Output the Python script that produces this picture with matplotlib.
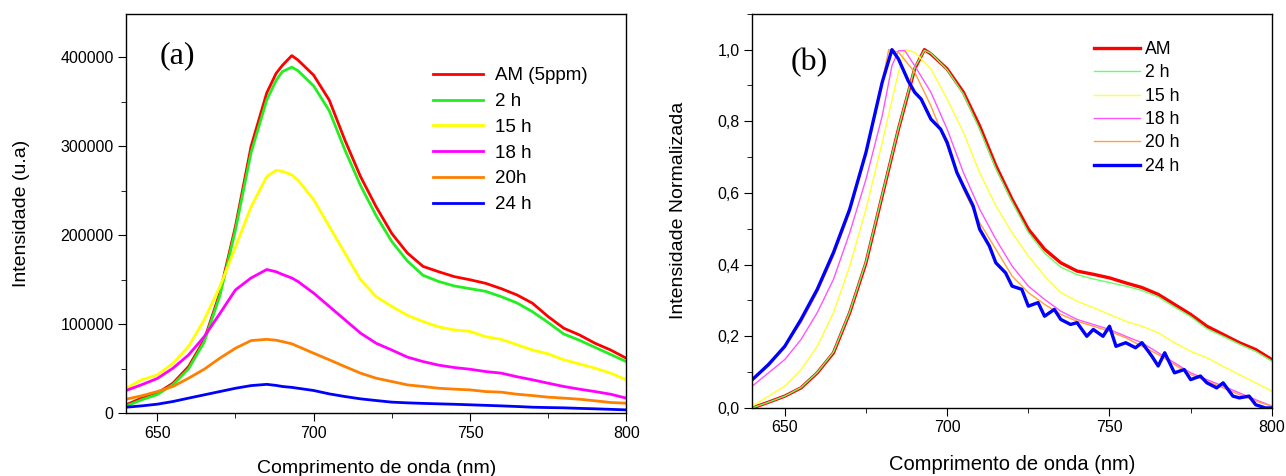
import matplotlib
matplotlib.use('Agg')
import matplotlib.pyplot as plt
from matplotlib.ticker import MultipleLocator, FuncFormatter

plt.rcParams['font.family'] = ['Liberation Sans', 'DejaVu Sans']

# --- panel (a): raw intensity ---
wl = [640, 645, 650, 655, 660, 665, 670, 675, 680, 685, 688, 690, 693, 695, 700, 705, 710, 715,
      720, 725, 730, 735, 740, 745, 750, 755, 760, 765, 770, 775, 780, 785, 790, 795, 800]
am_a = [9400, 16900, 22500, 33700, 52400, 82400, 135000, 210000, 300000, 360000, 382000, 391000,
        402000, 397000, 380000, 352000, 307000, 266000, 232000, 202000, 180000, 165000, 159000,
        153500, 150000, 146000, 140000, 133000, 123600, 108600, 95500, 88000, 78600, 71000, 61800]
h2_a = [8000, 15000, 21000, 32000, 50000, 80000, 132000, 206000, 293000, 352000, 374000, 384000,
        389000, 385000, 368000, 340000, 296000, 256000, 222000, 193000, 171000, 155000, 148000,
        143000, 140000, 137000, 131000, 124000, 114000, 102000, 89000, 82000, 74000, 66000, 58000]
h15_a = [28000, 37500, 43000, 56000, 75000, 105000, 142000, 187000, 232000, 266000, 273000, 272000,
         268000, 262000, 240000, 210000, 180000, 150000, 131000, 120000, 110000, 103000, 97000,
         93600, 92000, 86000, 83000, 77000, 71000, 66700, 60000, 55400, 50600, 45000, 37500]
h18_a = [25500, 32000, 39000, 50500, 65500, 86000, 112000, 138600, 152000, 161500, 159000, 156000,
         152000, 148000, 135000, 120000, 105000, 90000, 78600, 71000, 63000, 58000, 54000,
         51300, 49400, 46800, 45000, 41000, 37500, 33700, 30000, 27000, 24300, 21300, 16900]
h20_a = [15700, 19500, 24300, 30000, 39300, 49400, 61800, 73000, 81600, 83000, 82000, 80500,
         78000, 75000, 67400, 60000, 52400, 45000, 39300, 35600, 31800, 30000, 28000, 27000,
         26200, 24300, 23600, 21300, 19800, 18000, 16900, 15700, 13900, 12000, 11200]
h24_a = [6700, 8200, 10100, 13100, 16900, 20600, 24300, 28000, 31000, 32400, 31200, 30000,
         29000, 28000, 25500, 21700, 18700, 16100, 14200, 12400, 11600, 11000, 10500, 10000,
         9400, 8800, 8200, 7500, 6700, 6300, 6000, 5400, 4900, 4300, 3700]

labels_a = ['AM (5ppm)', '2 h', '15 h', '18 h', '20h', '24 h']

# --- panel (b): normalized ---
wl_b = [640, 645, 650, 655, 660, 665, 670, 675, 680, 685, 690, 693, 695, 700, 705, 710, 715, 720,
        725, 730, 735, 740, 745, 750, 755, 760, 765, 770, 775, 780, 785, 790, 795, 800]
am_b = [0.0, 0.016, 0.033, 0.056, 0.098, 0.154, 0.266, 0.405, 0.592, 0.778, 0.946, 1.0, 0.988,
        0.946, 0.881, 0.787, 0.676, 0.582, 0.499, 0.443, 0.405, 0.382, 0.373, 0.363, 0.349,
        0.336, 0.317, 0.289, 0.261, 0.228, 0.205, 0.182, 0.163, 0.135]
h2_b = [0.0, 0.016, 0.033, 0.057, 0.099, 0.156, 0.268, 0.408, 0.595, 0.780, 0.950, 0.998, 0.990,
        0.944, 0.876, 0.778, 0.668, 0.575, 0.490, 0.432, 0.393, 0.372, 0.360, 0.350, 0.340,
        0.328, 0.310, 0.282, 0.255, 0.221, 0.200, 0.178, 0.158, 0.131]
wl_y = [640, 645, 650, 655, 660, 665, 670, 675, 680, 685, 687, 690, 695, 700, 705, 710, 715, 720,
        725, 730, 735, 740, 745, 750, 755, 760, 765, 770, 775, 780, 785, 790, 795, 800]
h15_b = [0.005, 0.033, 0.061, 0.107, 0.172, 0.266, 0.396, 0.555, 0.741, 0.937, 1.0, 0.993, 0.946,
         0.862, 0.769, 0.657, 0.564, 0.489, 0.424, 0.368, 0.322, 0.298, 0.280, 0.261, 0.242,
         0.228, 0.210, 0.182, 0.158, 0.140, 0.116, 0.093, 0.070, 0.047]
wl_m = [640, 645, 650, 655, 660, 665, 670, 675, 680, 683, 685, 687, 690, 695, 700, 705, 710, 715,
        720, 725, 730, 735, 740, 745, 750, 755, 760, 765, 770, 775, 780, 785, 790, 795, 800]
h18_b = [0.061, 0.098, 0.135, 0.191, 0.266, 0.359, 0.489, 0.638, 0.815, 0.955, 0.997, 0.997, 0.955,
         0.881, 0.778, 0.657, 0.555, 0.471, 0.396, 0.340, 0.303, 0.270, 0.247, 0.233, 0.219,
         0.200, 0.182, 0.154, 0.126, 0.098, 0.079, 0.061, 0.042, 0.023, 0.005]
wl_o = [640, 645, 650, 655, 660, 665, 670, 675, 680, 682, 685, 690, 695, 700, 705, 710, 715, 720,
        725, 730, 735, 740, 745, 750, 755, 760, 765, 770, 775, 780, 785, 790, 795, 800]
h20_b = [0.079, 0.126, 0.172, 0.238, 0.322, 0.424, 0.545, 0.713, 0.909, 1.0, 0.993, 0.937, 0.843,
         0.731, 0.610, 0.517, 0.443, 0.368, 0.322, 0.289, 0.261, 0.242, 0.228, 0.214, 0.196,
         0.172, 0.149, 0.121, 0.093, 0.075, 0.056, 0.037, 0.019, 0.005]
wl_bl = [640, 645, 650, 655, 660, 665, 670, 675, 680, 683, 685, 688, 690, 692, 695, 698, 700, 703,
         705, 708, 710, 713, 715, 718, 720, 723, 725, 728, 730, 733, 735, 738, 740, 743, 745, 748,
         750, 752, 755, 758, 760, 763, 765, 767, 770, 773, 775, 778, 780, 783, 785, 788, 790, 793,
         795, 798, 800]
h24_b = [0.079, 0.121, 0.172, 0.247, 0.331, 0.434, 0.555, 0.713, 0.909, 1.0, 0.974, 0.913, 0.881,
         0.862, 0.806, 0.778, 0.741, 0.657, 0.619, 0.564, 0.499, 0.452, 0.405, 0.377, 0.340,
         0.331, 0.284, 0.294, 0.256, 0.275, 0.247, 0.233, 0.238, 0.200, 0.219, 0.200, 0.228,
         0.172, 0.182, 0.168, 0.182, 0.145, 0.117, 0.154, 0.098, 0.107, 0.079, 0.089, 0.070,
         0.056, 0.070, 0.033, 0.028, 0.033, 0.009, 0.0, 0.0]

labels_b = ['AM', '2 h', '15 h', '18 h', '20 h', '24 h']
colors = ['#ff0000', '#22ee22', '#ffff00', '#ff00ff', '#ff8000', '#0000ff']
colors_b = ['#ff0000', '#66ff66', '#ffff33', '#ff55ff', '#ffa040', '#0000ff']

fig = plt.figure(figsize=(12.86, 4.76), dpi=100)
ax1 = fig.add_axes([0.098, 0.132, 0.389, 0.839])
ax2 = fig.add_axes([0.585, 0.143, 0.404, 0.828])

# panel (a)
for ys, lab, c in zip([am_a, h2_a, h15_a, h18_a, h20_a, h24_a], labels_a, colors):
    ax1.plot(wl, ys, color=c, linewidth=2.0, label=lab)
ax1.set_xlim(640, 800)
ax1.set_ylim(0, 449000)
ax1.xaxis.set_major_locator(MultipleLocator(50))
ax1.xaxis.set_minor_locator(MultipleLocator(25))
ax1.yaxis.set_major_locator(MultipleLocator(100000))
ax1.yaxis.set_minor_locator(MultipleLocator(50000))
ax1.set_xlabel('Comprimento de onda (nm)', fontsize=14, labelpad=14)
ax1.set_ylabel('Intensidade (u.a)', fontsize=14, labelpad=22)
ax1.text(0.068, 0.895, '(a)', transform=ax1.transAxes, fontsize=23, family='Liberation Serif',
         ha='left', va='center')
ax1.legend(loc='upper left', bbox_to_anchor=(0.614, 0.866), frameon=False, fontsize=13.5,
           handlelength=2.67, handletextpad=0.64, labelspacing=0.46,
           borderpad=0, borderaxespad=0)

# panel (b)
series_b = [(wl_b, am_b, 2.4), (wl_b, h2_b, 1.0), (wl_y, h15_b, 1.0),
            (wl_m, h18_b, 1.0), (wl_o, h20_b, 1.0), (wl_bl, h24_b, 2.4)]
for (xs, ys, lw), lab, c in zip(series_b, labels_b, colors_b):
    ax2.plot(xs, ys, color=c, linewidth=lw, label=lab)
ax2.set_xlim(640, 800)
ax2.set_ylim(0, 1.1)
ax2.xaxis.set_major_locator(MultipleLocator(50))
ax2.xaxis.set_minor_locator(MultipleLocator(25))
ax2.yaxis.set_major_locator(MultipleLocator(0.2))
ax2.yaxis.set_minor_locator(MultipleLocator(0.1))
ax2.yaxis.set_major_formatter(FuncFormatter(lambda v, p: f'{v:.1f}'.replace('.', ',')))
ax2.set_xlabel('Comprimento de onda (nm)', fontsize=14.5, labelpad=14)
ax2.set_ylabel('Intensidade Normalizada', fontsize=14, labelpad=22)
ax2.text(0.073, 0.876, '(b)', transform=ax2.transAxes, fontsize=23, family='Liberation Serif',
         ha='left', va='center')
ax2.legend(loc='upper left', bbox_to_anchor=(0.658, 0.931), frameon=False, fontsize=12.7,
           handlelength=2.6, handletextpad=0.28, labelspacing=0.36,
           borderpad=0, borderaxespad=0)

for ax in (ax1, ax2):
    ax.tick_params(which='major', direction='out', length=5.5, labelsize=11.5,
                   top=False, right=False)
    ax.tick_params(which='minor', direction='out', length=3.5, top=False, right=False)
    for s in ax.spines.values():
        s.set_linewidth(1.0)

fig.savefig('out.png', dpi=100)
